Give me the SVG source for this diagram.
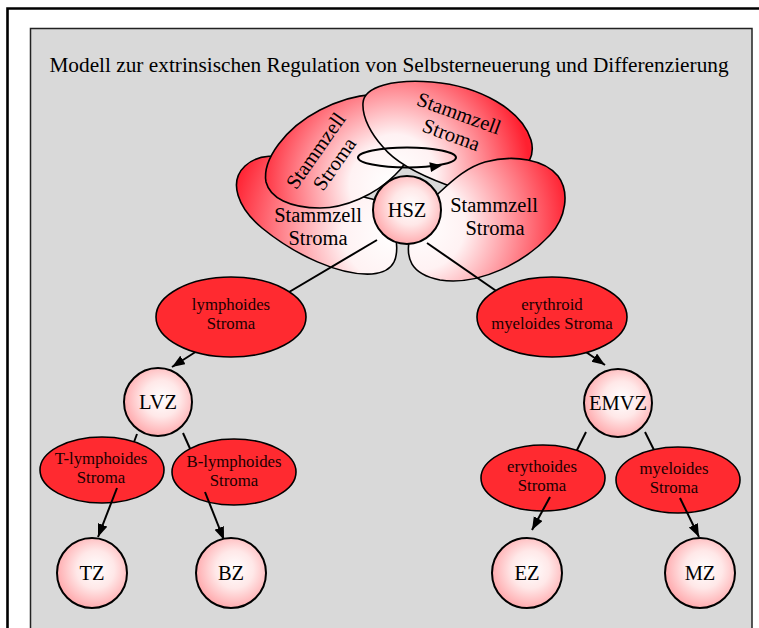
<svg xmlns="http://www.w3.org/2000/svg" width="759" height="628" viewBox="0 0 759 628">
<style>
.t21{font-family:"Liberation Serif","Times New Roman",serif;font-size:20.5px;text-anchor:middle;fill:#000}
.t17{font-family:"Liberation Serif","Times New Roman",serif;font-size:16.8px;text-anchor:middle;fill:#1a0000}
.ttl{font-family:"Liberation Serif","Times New Roman",serif;font-size:21.3px;text-anchor:middle;fill:#000}
.shape{stroke:#000;stroke-width:1.6}
.red{fill:#ff2a30;stroke:#000;stroke-width:1.6}
.ball{fill:url(#ball);stroke:#000;stroke-width:2}
.con{stroke:#000;stroke-width:2;fill:none}
.arr{marker-end:url(#ah)}
</style>
<defs>
<radialGradient id="ball" cx="0.55" cy="0.45" r="0.6">
<stop offset="0" stop-color="#ffffff"/>
<stop offset="0.45" stop-color="#ffe8e8"/>
<stop offset="1" stop-color="#ffa2a6"/>
</radialGradient>
<radialGradient id="gL" gradientUnits="userSpaceOnUse" cx="392" cy="232" r="165">
<stop offset="0" stop-color="#ffffff"/>
<stop offset="0.3" stop-color="#fff2f3"/>
<stop offset="1" stop-color="#ff2030"/>
</radialGradient>
<radialGradient id="gR" gradientUnits="userSpaceOnUse" cx="420" cy="225" r="150">
<stop offset="0" stop-color="#ffffff"/>
<stop offset="0.3" stop-color="#fff2f3"/>
<stop offset="1" stop-color="#ff2030"/>
</radialGradient>
<radialGradient id="gTL" gradientUnits="userSpaceOnUse" cx="390" cy="185" r="135">
<stop offset="0" stop-color="#ffffff"/>
<stop offset="0.3" stop-color="#fff2f3"/>
<stop offset="1" stop-color="#ff2030"/>
</radialGradient>
<radialGradient id="gTR" gradientUnits="userSpaceOnUse" cx="395" cy="175" r="135">
<stop offset="0" stop-color="#ffffff"/>
<stop offset="0.3" stop-color="#fff2f3"/>
<stop offset="1" stop-color="#ff2030"/>
</radialGradient>
<marker id="ah" markerWidth="14" markerHeight="12" refX="13" refY="5" orient="auto" markerUnits="userSpaceOnUse">
<path d="M0,0 L13,5 L0,10 z" fill="#000"/>
</marker>
</defs>

<rect x="0" y="0" width="759" height="628" fill="#ffffff"/>
<path d="M7.5,628 V8.5 H759" fill="none" stroke="#000" stroke-width="2.6"/>
<rect x="30.5" y="28.5" width="721.5" height="620" fill="#d9d9d9" stroke="#222" stroke-width="1.5"/>

<text class="ttl" x="389" y="72">Modell zur extrinsischen Regulation von Selbsterneuerung und Differenzierung</text>

<g id="stroma-left">
<path class="shape" fill="url(#gL)" d="M395,232 C400,258 395,272 372,274 C340,276 295,255 262,228 C238,208 228,182 245,166 C258,154 278,153 298,163 C325,177 350,195 372,199 L392,205 Z"/>
<text class="t21" x="318" y="222">Stammzell</text>
<text class="t21" x="318" y="244.8">Stroma</text>
</g>

<g id="stroma-topleft">
<path class="shape" fill="url(#gTL)" d="M266,182 C262,160 285,128 320,110 C355,92 395,88 410,105 C425,122 412,160 395,175 C375,195 345,208 320,208 C290,208 270,198 266,182 Z"/>
<g transform="translate(325.5,157.5) rotate(-55)">
<text class="t21" x="0" y="-5">Stammzell</text>
<text class="t21" x="0" y="17.8">Stroma</text>
</g>
</g>

<g id="stroma-topright">
<path class="shape" fill="url(#gTR)" d="M363,103 C364,86 395,79 432,82 C480,86 522,110 531,140 C538,165 515,180 480,186 C465,188 455,188 447,185 C420,175 395,162 383,147 C372,135 362,118 363,103 Z"/>
<g transform="translate(455,124.5) rotate(20)">
<text class="t21" x="0" y="-5">Stammzell</text>
<text class="t21" x="0" y="17.8">Stroma</text>
</g>
</g>

<g id="stroma-right">
<path class="shape" fill="url(#gR)" d="M410,235 C405,258 410,274 440,280 C480,286 525,262 550,235 C566,218 570,192 558,176 C545,160 515,154 485,162 C468,167 455,178 440,192 L415,215 Z"/>
<text class="t21" x="494" y="212">Stammzell</text>
<text class="t21" x="495" y="234.8">Stroma</text>
</g>

<g id="selfrenewal-loop">
<ellipse cx="407" cy="157.5" rx="49" ry="10" fill="none" stroke="#000" stroke-width="2"/>
<polygon points="442,165.5 429.3,162.2 431.1,172" fill="#000"/>
</g>

<g id="connectors">
<line class="con" x1="377" y1="240" x2="279" y2="298"/>
<line class="con" x1="427" y1="243" x2="505" y2="297"/>
<line class="con arr" x1="222" y1="335" x2="172" y2="367"/>
<line class="con arr" x1="558" y1="333" x2="605" y2="365"/>
<line class="con" x1="137" y1="434" x2="131" y2="450"/>
<line class="con" x1="183" y1="433" x2="192" y2="453"/>
<line class="con" x1="586" y1="432" x2="572" y2="460"/>
<line class="con" x1="645" y1="432" x2="660" y2="462"/>
</g>

<g id="HSZ">
<circle class="ball" cx="407" cy="210" r="34"/>
<text class="t21" x="407" y="217">HSZ</text>
</g>

<g id="lymphoides-stroma">
<ellipse class="red" cx="231" cy="317" rx="75" ry="40"/>
<text class="t17" x="231" y="309.5">lymphoides</text>
<text class="t17" x="231" y="328.5">Stroma</text>
</g>

<g id="erythroid-myeloides-stroma">
<ellipse class="red" cx="552" cy="317" rx="75" ry="40"/>
<text class="t17" x="552" y="309.5">erythroid</text>
<text class="t17" x="552" y="328.5">myeloides Stroma</text>
</g>

<g id="LVZ">
<circle class="ball" cx="158" cy="402" r="34"/>
<text class="t21" x="158" y="409">LVZ</text>
</g>

<g id="EMVZ">
<circle class="ball" cx="618" cy="403" r="34"/>
<text class="t21" x="618" y="410">EMVZ</text>
</g>

<g id="T-lymphoides-stroma">
<ellipse class="red" cx="102" cy="470" rx="62" ry="33"/>
<text class="t17" x="101" y="464">T-lymphoides</text>
<text class="t17" x="101" y="483">Stroma</text>
</g>

<g id="B-lymphoides-stroma">
<ellipse class="red" cx="234" cy="472" rx="62" ry="33"/>
<text class="t17" x="234" y="467">B-lymphoides</text>
<text class="t17" x="234" y="486">Stroma</text>
</g>

<g id="erythoides-stroma">
<ellipse class="red" cx="543" cy="478" rx="62" ry="33"/>
<text class="t17" x="542" y="472">erythoides</text>
<text class="t17" x="542" y="491">Stroma</text>
</g>

<g id="myeloides-stroma">
<ellipse class="red" cx="678" cy="480" rx="62" ry="33"/>
<text class="t17" x="674" y="474">myeloides</text>
<text class="t17" x="674" y="493">Stroma</text>
</g>

<g id="connectors-2">
<line class="con arr" x1="117" y1="488" x2="98" y2="537"/>
<line class="con arr" x1="205" y1="492" x2="224" y2="540"/>
<line class="con arr" x1="550" y1="497" x2="532" y2="530"/>
<line class="con arr" x1="680" y1="498" x2="699" y2="537"/>
</g>

<g id="TZ">
<circle class="ball" cx="92" cy="573" r="35"/>
<text class="t21" x="92" y="580">TZ</text>
</g>
<g id="BZ">
<circle class="ball" cx="231" cy="573" r="35"/>
<text class="t21" x="231" y="580">BZ</text>
</g>
<g id="EZ">
<circle class="ball" cx="527" cy="573" r="35"/>
<text class="t21" x="527" y="580">EZ</text>
</g>
<g id="MZ">
<circle class="ball" cx="700" cy="573" r="35"/>
<text class="t21" x="700" y="580">MZ</text>
</g>
</svg>
